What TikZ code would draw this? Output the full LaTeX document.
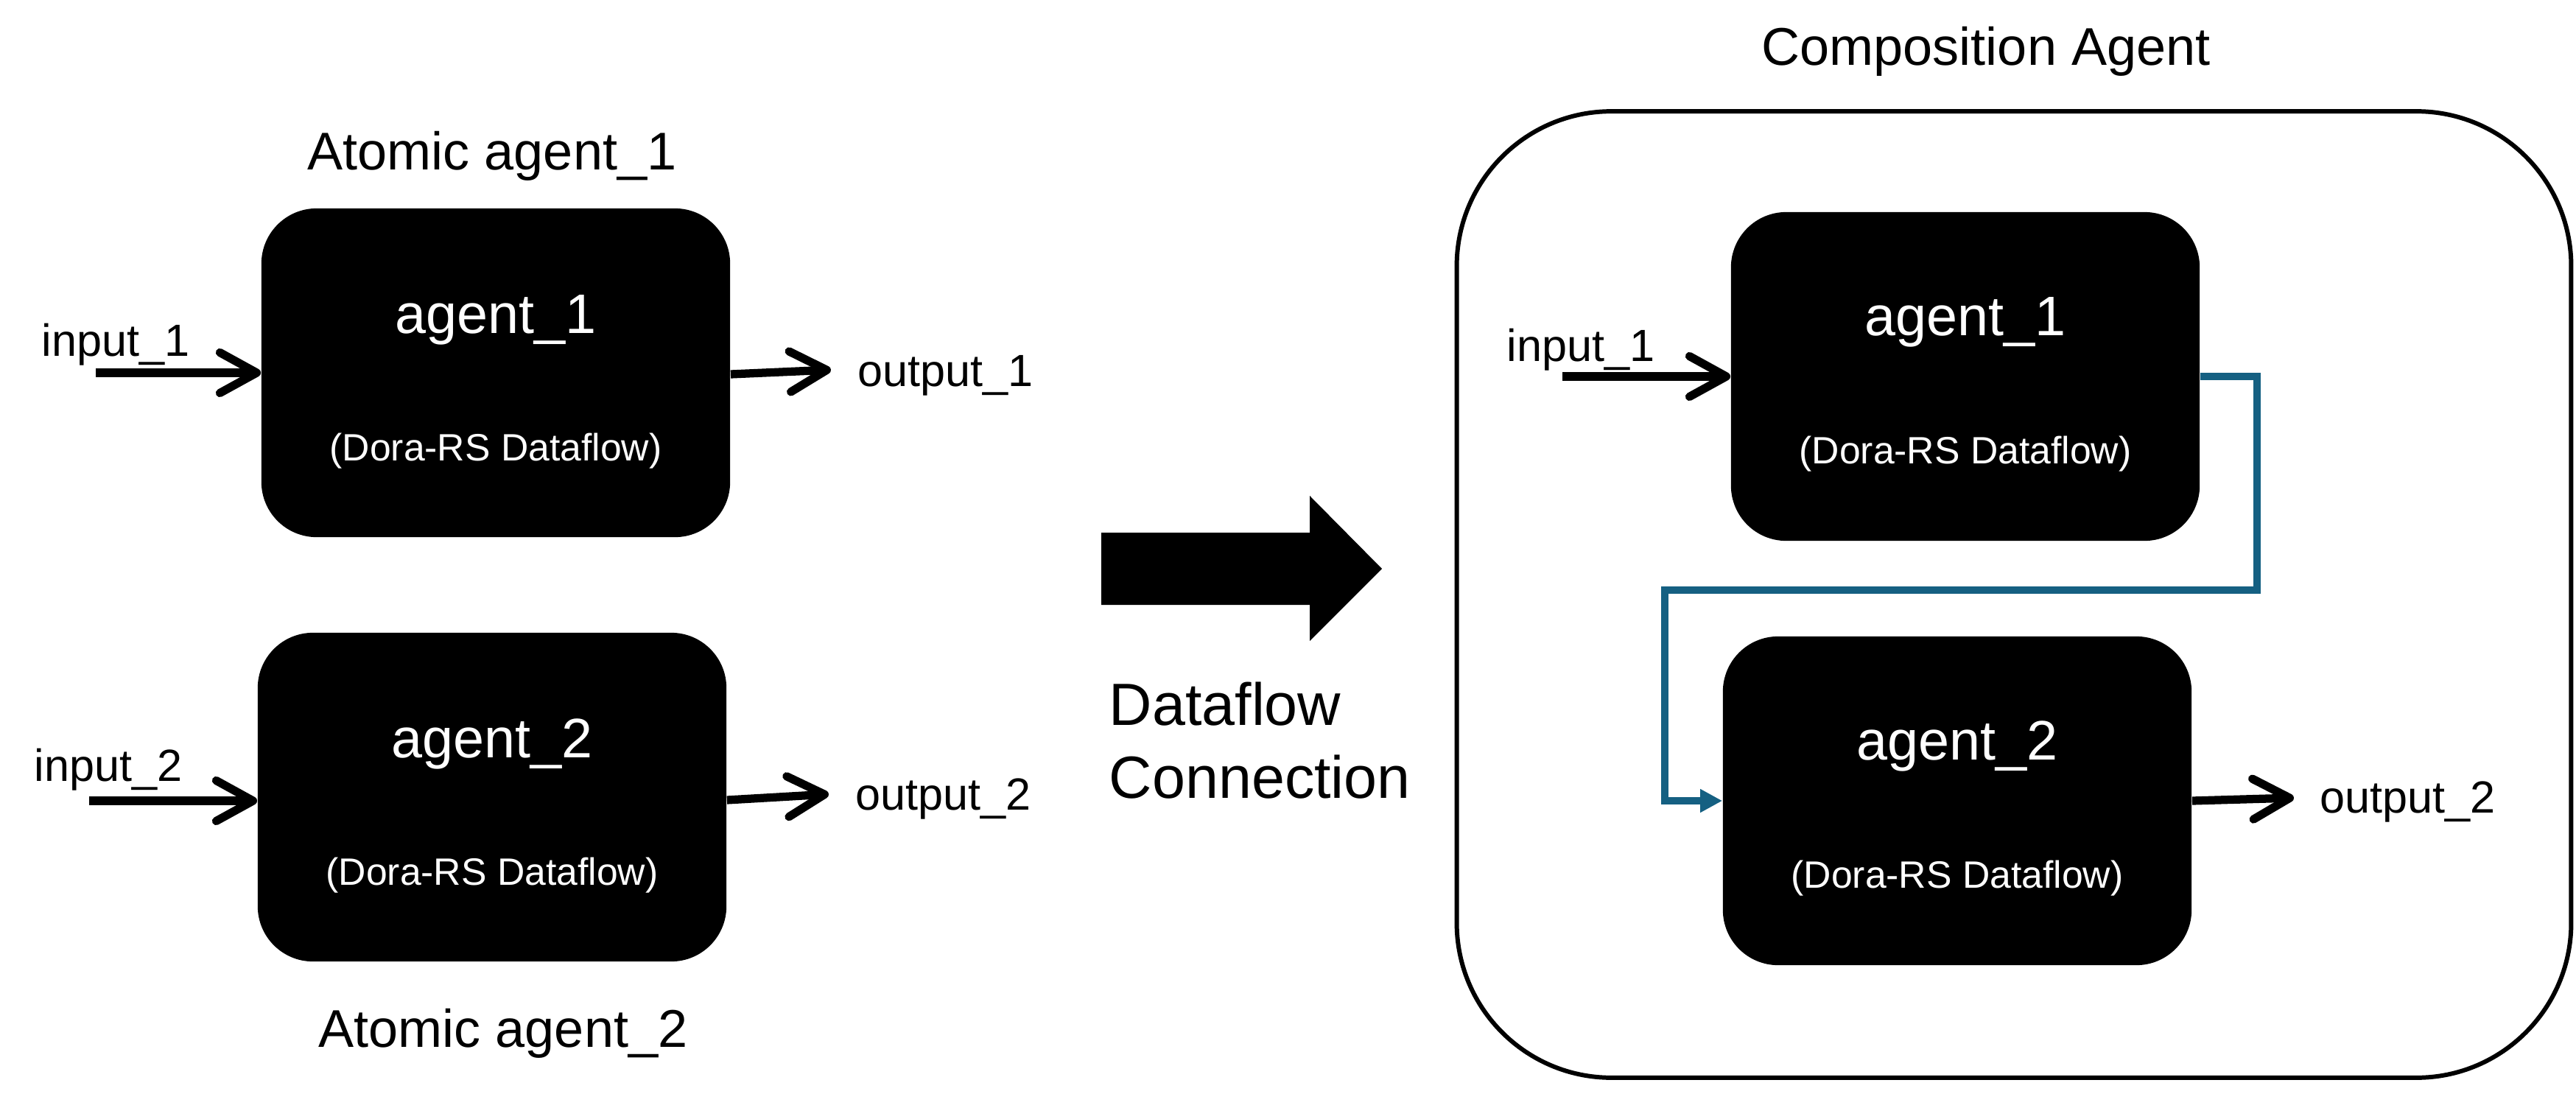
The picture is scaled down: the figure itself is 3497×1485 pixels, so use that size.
\documentclass[tikz,border=0pt]{standalone}
\usepackage{fontspec}
\setmainfont{Liberation Sans}
\usepackage{xcolor}
\usetikzlibrary{arrows.meta, positioning}
\definecolor{flowblue}{RGB}{21, 96, 130}

\tikzset{
  agentbox/.style={rectangle, rounded corners=0.75cm, fill=black, minimum width=6.36cm, minimum height=4.46cm},
  agentname/.style={text=white, inner sep=0pt, font=\fontsize{21.5}{26}\selectfont},
  agentsub/.style={text=white, inner sep=0pt, font=\fontsize{14.7}{18}\selectfont},
  caption/.style={inner sep=0pt, font=\fontsize{20.5}{25}\selectfont},
  portlabel/.style={inner sep=0pt, font=\fontsize{17.4}{21}\selectfont},
  portarrow/.style={line width=3.2pt, -{Straight Barb[length=0.5cm, width=0.55cm, line cap=round, line join=round]}},
  linkarrow/.style={draw=flowblue, line width=2.85pt, -{Triangle[length=0.3cm, width=0.3cm]}},
  compbox/.style={rectangle, draw=black, line width=1.7pt, rounded corners=2.1cm, minimum width=15.12cm, minimum height=13.11cm}
}

\begin{document}
\begin{tikzpicture}[x=0.01cm, y=-0.01cm]
  \useasboundingbox (0,0) rectangle (3497,1485);

  % left side: two atomic agents
  \node[agentbox] (l1) at (673,506) {};
  \node[agentbox] (l2) at (668,1082) {};
  \node[agentname] (l1name) at ([yshift=0.72cm]l1.center) {agent\_1};
  \node[agentsub] (l1sub) at ([yshift=-1.06cm]l1.center) {(Dora-RS Dataflow)};
  \node[agentname] (l2name) at ([yshift=0.72cm]l2.center) {agent\_2};
  \node[agentsub] (l2sub) at ([yshift=-1.06cm]l2.center) {(Dora-RS Dataflow)};
  \node[caption] (l1cap) at (668,212) {Atomic agent\_1};
  \node[caption] (l2cap) at (683,1403) {Atomic agent\_2};

  \coordinate (l1in) at (130,506);
  \coordinate (l2in) at (121,1087);
  \coordinate (l1out) at (1128,502);
  \coordinate (l2out) at (1125,1078);
  \node[portlabel, anchor=base west] (in1) at (56,483) {input\_1};
  \node[portlabel, anchor=base west] (in2) at (46,1060) {input\_2};
  \node[portlabel, right=0.36cm of l1out, yshift=-0.08cm] (out1) {output\_1};
  \node[portlabel, right=0.36cm of l2out, yshift=-0.06cm] (out2) {output\_2};
  \draw[portarrow] (l1in) -- (l1.west);
  \draw[portarrow] (l2in) -- (l2in -| l2.west);
  \draw[portarrow] ([yshift=-0.02cm]l1.east) -- (l1out);
  \draw[portarrow] ([yshift=-0.04cm]l2.east) -- (l2out);

  % middle: big arrow
  \fill[black] (1495,723) -- (1778,723) -- (1778,673) -- (1876,772)
    -- (1778,870) -- (1778,821) -- (1495,821) -- cycle;
  \node[inner sep=0pt, anchor=north west, align=left, font=\fontsize{23}{28.2}\selectfont] (dfconn) at (1505,925) {Dataflow\\Connection};

  % right side: composition agent
  \node[compbox] (comp) at (2734,807) {};
  \node[caption] (compcap) at (2696,70) {Composition Agent};
  \node[agentbox] (r1) at (2668,511) {};
  \node[agentbox] (r2) at (2657,1087) {};
  \node[agentname] (r1name) at ([yshift=0.74cm]r1.center) {agent\_1};
  \node[agentsub] (r1sub) at ([yshift=-1.05cm]r1.center) {(Dora-RS Dataflow)};
  \node[agentname] (r2name) at ([yshift=0.74cm]r2.center) {agent\_2};
  \node[agentsub] (r2sub) at ([yshift=-1.05cm]r2.center) {(Dora-RS Dataflow)};

  \coordinate (r1in) at (2121,511);
  \coordinate (r2out) at (3114,1083);
  \node[portlabel, anchor=base west] (rin1) at (2045,490) {input\_1};
  \node[portlabel, right=0.35cm of r2out, yshift=-0.05cm] (rout2) {output\_2};
  \draw[portarrow] (r1in) -- (r1.west);
  \draw[portarrow] (r2.east) -- (r2out);

  \coordinate (bendr) at (3064,801);
  \coordinate (bendl) at (2260,801);
  \draw[linkarrow] (r1.east) -| (bendr) -- (bendl) |- (r2.west);
\end{tikzpicture}
\end{document}
